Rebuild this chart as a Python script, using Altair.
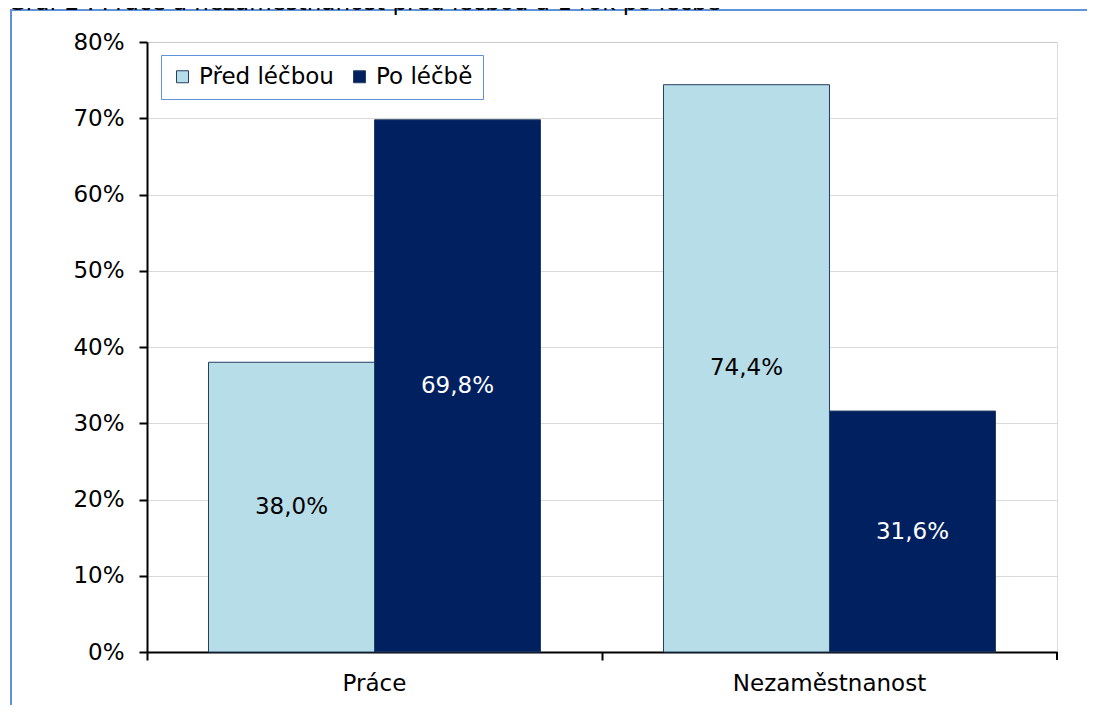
import altair as alt
import pandas as pd

# ---- data ----
categories = ["Práce", "Nezaměstnanost"]
series = ["Před léčbou", "Po léčbě"]
pred_lecbou = [0.380, 0.744]
po_lecbe = [0.698, 0.316]
y_ticks = [0.0, 0.1, 0.2, 0.3, 0.4, 0.5, 0.6, 0.7, 0.8]
title_text = "Graf 2 : Práce a nezaměstnanost před léčbou a 1 rok po léčbě"

rows = []
for i, c in enumerate(categories):
    rows.append({"cat": c, "series": series[0], "value": pred_lecbou[i]})
    rows.append({"cat": c, "series": series[1], "value": po_lecbe[i]})
df = pd.DataFrame(rows)

FONT = "DejaVu Sans"
FS = 23
LIGHT = "#b7dde8"
DARK = "#002060"
OUTLINE = "#243f60"
FRAME = "#5f93d9"

W, H = 910, 610
P_IN, P_OUT = 0.2703, 0.1352
# ticks sit on the category boundaries, i.e. half an inner gap before each band
TICK_BAND_POS = -(P_IN / 2) / (1 - P_IN)

xscale = alt.Scale(domain=categories, paddingInner=P_IN, paddingOuter=P_OUT)
yscale = alt.Scale(domain=[0, 0.8], nice=False, zero=True)
offscale = alt.Scale(domain=series, paddingInner=0, paddingOuter=0)

base = alt.Chart(df)

bars = base.mark_bar(stroke=OUTLINE, strokeWidth=1).encode(
    x=alt.X("cat:N", sort=categories, scale=xscale, title=None,
            axis=alt.Axis(labelAngle=0, labelFontSize=FS, labelFont=FONT, labelColor="black",
                          labelLimit=500,
                          domainColor="black", domainWidth=2, ticks=True, tickSize=8,
                          tickWidth=2, tickColor="black", bandPosition=TICK_BAND_POS,
                          labelPadding=12, grid=False)),
    xOffset=alt.XOffset("series:N", sort=series, scale=offscale),
    y=alt.Y("value:Q", scale=yscale, title=None,
            axis=alt.Axis(values=y_ticks, format=".0%", labelFontSize=FS, labelFont=FONT,
                          labelColor="black", domainColor="black", domainWidth=2,
                          tickSize=8, tickWidth=2, tickColor="black", labelPadding=15,
                          grid=True, gridColor="#b4b4b4", gridDash=[1, 1], gridWidth=1)),
    color=alt.Color("series:N", sort=series,
                    scale=alt.Scale(domain=series, range=[LIGHT, DARK]),
                    legend=alt.Legend(title=None, orient="none", legendX=14, legendY=13,
                                      direction="horizontal", labelFontSize=FS, labelFont=FONT,
                                      labelColor="black", symbolType="square", symbolSize=144,
                                      symbolStrokeColor=OUTLINE, symbolStrokeWidth=1,
                                      strokeColor=FRAME, fillColor="white", padding=10,
                                      columnPadding=14, labelOffset=5)),
)

labels = base.transform_calculate(
    mid="datum.value / 2",
    lab="replace(format(datum.value, '.1%'), '.', ',')",
).mark_text(font=FONT, fontSize=FS, baseline="middle", align="center").encode(
    x=alt.X("cat:N", sort=categories, scale=xscale),
    xOffset=alt.XOffset("series:N", sort=series, scale=offscale),
    y=alt.Y("mid:Q", scale=yscale),
    text="lab:N",
    color=alt.condition(alt.datum.series == series[1], alt.value("white"), alt.value("black")),
)

one = pd.DataFrame({"t": [title_text]})

frame = alt.Chart(one).mark_rect(fill="transparent", stroke=FRAME, strokeWidth=2).encode(
    x=alt.value(-136), x2=alt.value(3000), y=alt.value(-32), y2=alt.value(3000)
)

title = alt.Chart(one).mark_text(font=FONT, fontSize=FS, align="left",
                                 baseline="alphabetic", color="black").encode(
    x=alt.value(-139), y=alt.value(-32), text="t:N"
)

end_tick = alt.Chart(one).mark_rule(color="black", strokeWidth=2).encode(
    x=alt.value(W), y=alt.value(H), y2=alt.value(H + 8)
)

chart = alt.layer(frame, bars, labels, end_tick, title).properties(
    width=W, height=H,
    autosize=alt.AutoSizeParams(type="none"),
    padding={"left": 139, "top": 34, "right": 30, "bottom": 53},
).configure_view(stroke="#c0c0c0", strokeWidth=1).configure(font=FONT, background="white")

chart.save("out.html", embed_options={"renderer": "svg", "actions": False})
